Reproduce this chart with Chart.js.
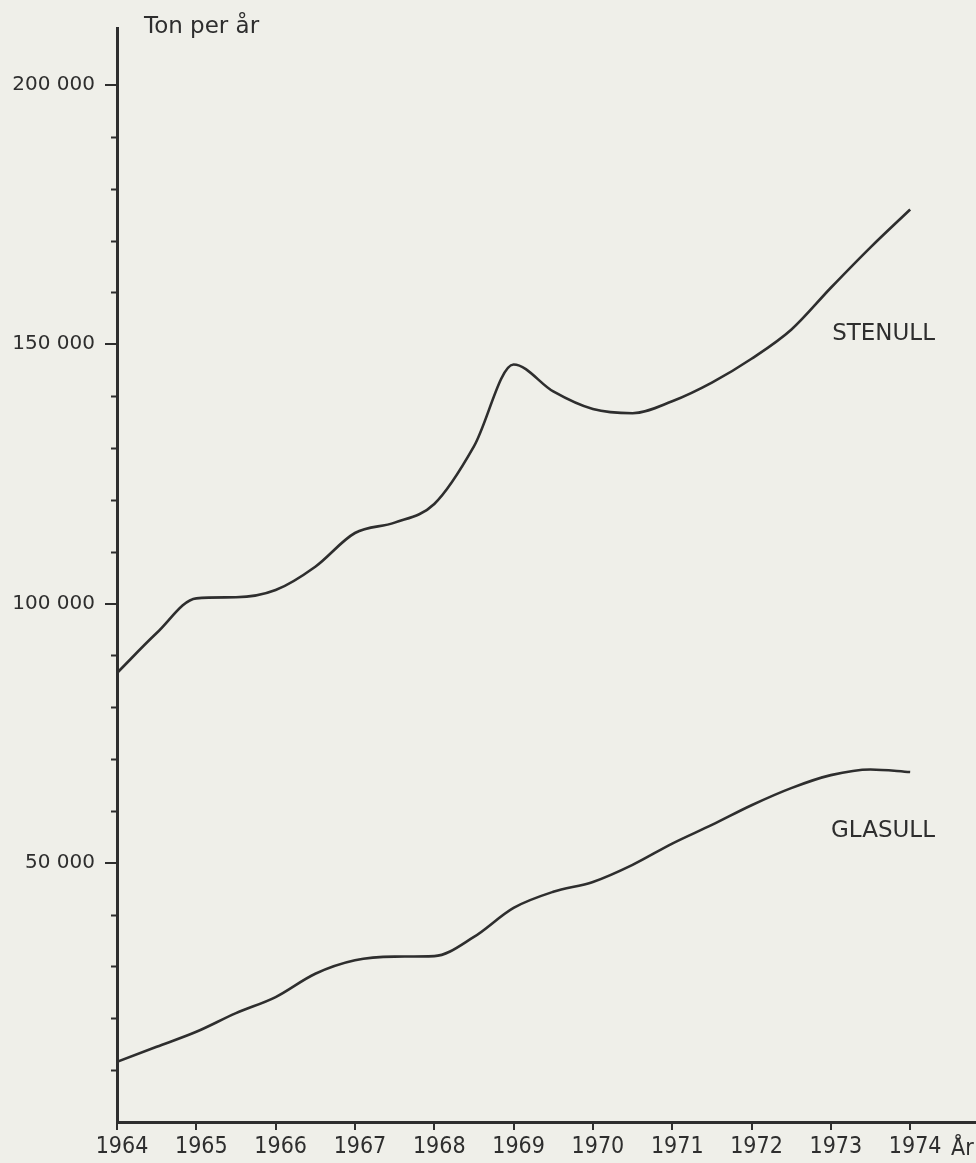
<!DOCTYPE html>
<html>
<head>
<meta charset="utf-8">
<script src="https://cdn.jsdelivr.net/npm/chart.js@4/dist/chart.umd.min.js"></script>
<style>
	html, body { margin: 0; padding: 0; background: #efefe9; }
	#wrap { width: 976px; height: 1163px; position: relative; }
</style>
</head>
<body>
<div id="wrap"><canvas id="chart" width="976" height="1163"></canvas></div>
<script>
// år (halvårsvis)
const years = [1964, 1964.5, 1965, 1965.5, 1966, 1966.5, 1967, 1967.5, 1968, 1968.5, 1969,
	1969.5, 1970, 1970.5, 1971, 1971.5, 1972, 1972.5, 1973, 1973.5, 1974];
const yearTicks = [1964, 1965, 1966, 1967, 1968, 1969, 1970, 1971, 1972, 1973, 1974];

// ton per år
const stenull = [86600, 94300, 101000, 101200, 102600, 107100, 113600, 115600, 119200, 130300, 146100,
	140900, 137500, 136700, 139000, 142600, 147200, 152800, 160900, 168700, 176000];
const glasull = [11600, 14500, 17400, 21000, 24100, 28600, 31200, 31900, 32000, 35700, 41300,
	44400, 46300, 49600, 53700, 57300, 61100, 64400, 66900, 68000, 67500];

const yTicks = [10000, 20000, 30000, 40000, 50000, 60000, 70000, 80000, 90000, 100000,
	110000, 120000, 130000, 140000, 150000, 160000, 170000, 180000, 190000, 200000];
const yLabelled = [50000, 100000, 150000, 200000];

const ink = '#2e2e2e';
const font = 'DejaVu Sans, sans-serif';
const narrow = '"Liberation Sans Narrow", "DejaVu Sans Condensed", sans-serif';

function pts(vals) { return years.map((x, i) => ({ x, y: vals[i] })); }
function fmt(v) { return String(v).replace(/\B(?=(\d{3})+(?!\d))/g, ' '); }

// korta streck för mellanvärden + texter
const extras = {
	id: 'extras',
	afterDraw(chart) {
		const { ctx, scales: { x, y } } = chart;
		ctx.save();
		ctx.strokeStyle = ink;
		ctx.lineWidth = 2;
		yTicks.filter(v => !yLabelled.includes(v)).forEach(v => {
			const py = Math.round(y.getPixelForValue(v)) + 0.5;
			ctx.beginPath(); ctx.moveTo(x.left - 6, py); ctx.lineTo(x.left, py); ctx.stroke();
		});
		ctx.fillStyle = ink;
		ctx.textBaseline = 'alphabetic';
		ctx.font = '23px ' + font;
		ctx.textAlign = 'left';
		ctx.fillText('Ton per år', 144, 33);
		ctx.textAlign = 'right';
		ctx.fillText('STENULL', 935, 340);
		ctx.fillText('GLASULL', 935, 837);
		ctx.font = '23px ' + narrow;
		ctx.textAlign = 'left';
		ctx.fillText('År', 951, 1155);
		ctx.restore();
	}
};

new Chart(document.getElementById('chart'), {
	type: 'line',
	data: {
		datasets: [
			{ label: 'STENULL', data: pts(stenull), borderColor: ink, borderWidth: 2.6, pointRadius: 0, cubicInterpolationMode: 'monotone', fill: false },
			{ label: 'GLASULL', data: pts(glasull), borderColor: ink, borderWidth: 2.6, pointRadius: 0, cubicInterpolationMode: 'monotone', fill: false }
		]
	},
	options: {
		responsive: false,
		animation: false,
		layout: { padding: { top: 28, right: 0, left: 0, bottom: 0 } },
		plugins: { legend: { display: false }, tooltip: { enabled: false } },
		scales: {
			x: {
				type: 'linear', min: 1964, max: 1974.83,
				afterBuildTicks: s => { s.ticks = yearTicks.map(v => ({ value: v })); },
				afterFit: s => { s.height = 41; },
				grid: { drawOnChartArea: false, drawTicks: true, tickLength: 8, color: ink, lineWidth: 2 },
				border: { display: true, color: ink, width: 3 },
				ticks: { color: ink, padding: 3, labelOffset: 5, maxRotation: 0, autoSkip: false,
					font: { family: narrow, size: 23 },
					callback: v => String(v) }
			},
			y: {
				type: 'linear', min: 0, max: 211000,
				afterBuildTicks: s => { s.ticks = yTicks.map(v => ({ value: v })); },
				afterFit: s => { s.width = 117; },
				grid: { drawOnChartArea: false, drawTicks: true, tickLength: 12, lineWidth: 2,
					tickColor: c => yLabelled.includes(c.tick && c.tick.value) ? ink : 'rgba(0,0,0,0)' },
				border: { display: true, color: ink, width: 3 },
				ticks: { color: ink, padding: 10, autoSkip: false,
					font: { family: font, size: 20 },
					callback: v => yLabelled.includes(v) ? fmt(v) : '' }
			}
		}
	},
	plugins: [extras]
});
</script>
</body>
</html>
